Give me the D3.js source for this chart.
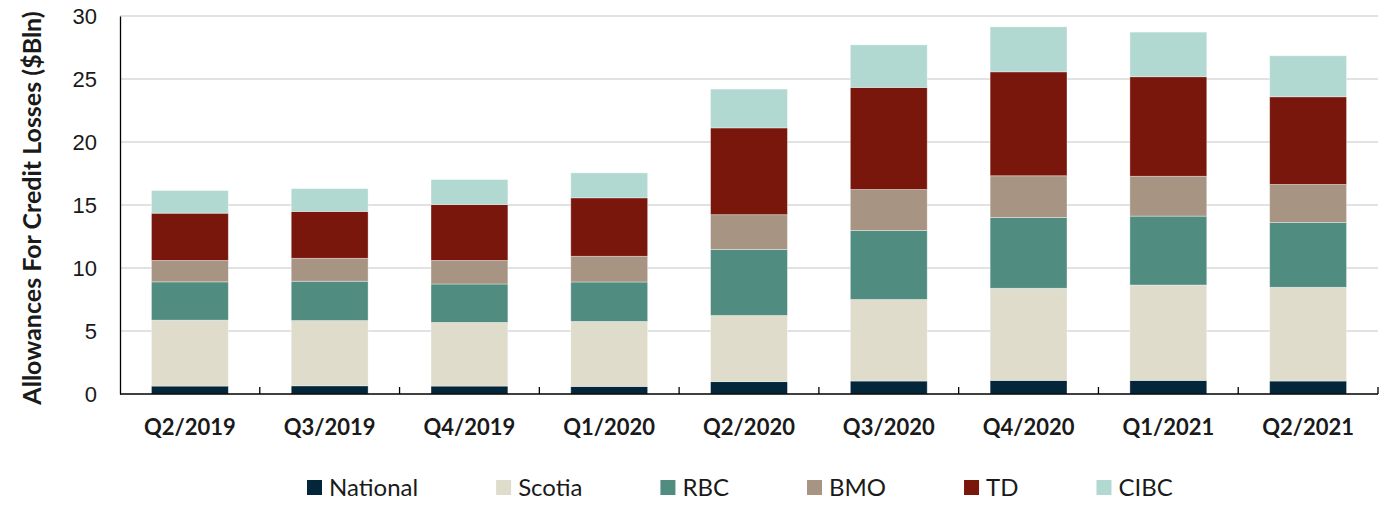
<!DOCTYPE html>
<html lang="en">
<head>
<meta charset="UTF-8">
<title>Allowances for credit losses</title>
<script src="https://cdn.jsdelivr.net/npm/d3@7"></script>
<style>
    body { margin: 0; background: #fff; }
    svg { display: block; font-family: Lato, "Open Sans", sans-serif; }
    .grid line { stroke: #d9d9d9; stroke-width: 1.3; }
    .ylab text { font-size: 22px; fill: #1a1a1a; }
    .xlab text { font-size: 22px; font-weight: bold; fill: #1a1a1a; }
    .legend text { font-size: 24px; fill: #1a1a1a; }
</style>
</head>
<body>
<svg id="chart" width="1395" height="514"></svg>
<script>
// quarters on the x axis
const quarters = ['Q2/2019', 'Q3/2019', 'Q4/2019', 'Q1/2020', 'Q2/2020', 'Q3/2020', 'Q4/2020', 'Q1/2021', 'Q2/2021'];
const banks = ['National', 'Scotia', 'RBC', 'BMO', 'TD', 'CIBC'];

// $Bln
const national = [0.63, 0.65, 0.63, 0.60, 0.98, 1.03, 1.08, 1.08, 1.03];
const scotia   = [5.23, 5.18, 5.05, 5.16, 5.25, 6.47, 7.31, 7.57, 7.44];
const rbc      = [3.04, 3.12, 3.05, 3.13, 5.25, 5.48, 5.62, 5.47, 5.15];
const bmo      = [1.70, 1.82, 1.87, 2.04, 2.75, 3.25, 3.31, 3.16, 3.01];
const td       = [3.75, 3.72, 4.44, 4.64, 6.89, 8.10, 8.25, 7.90, 6.96];
const cibc     = [1.80, 1.81, 1.98, 1.98, 3.08, 3.38, 3.57, 3.54, 3.25];
const yTicks = [0, 5, 10, 15, 20, 25, 30];

const colors = ['#04263a', '#dfdccc', '#518c81', '#a79483', '#79170d', '#b1d9d2'];

const series = [national, scotia, rbc, bmo, td, cibc];
const rows = quarters.map((q, i) => {
    const r = { q: q };
    banks.forEach((b, j) => r[b] = series[j][i]);
    return r;
});

const svg = d3.select('#chart');
const pl = 120, pr = 1378, pt = 16, pb = 394;

const x = d3.scaleBand().domain(quarters).range([pl, pr]).paddingInner(0.45).paddingOuter(0.225);
const y = d3.scaleLinear().domain([0, 30]).range([pb, pt]);
const color = d3.scaleOrdinal().domain(banks).range(colors);

// gridlines
svg.append('g').attr('class', 'grid')
    .selectAll('line').data(yTicks.slice(1)).enter().append('line')
    .attr('x1', pl).attr('x2', pr)
    .attr('y1', d => y(d)).attr('y2', d => y(d));

const stacked = d3.stack().keys(banks)(rows);

svg.append('g').selectAll('g').data(stacked).enter().append('g')
    .attr('fill', d => color(d.key))
    .selectAll('rect').data(d => d).enter().append('rect')
    .attr('x', d => x(d.data.q))
    .attr('width', x.bandwidth())
    .attr('y', d => y(d[1]))
    .attr('height', d => y(d[0]) - y(d[1]))
    .attr('stroke', '#ffffff')
    .attr('stroke-opacity', 0.45)
    .attr('stroke-width', 0.8);

// y axis
const yAxis = svg.append('g').attr('class', 'ylab')
    .attr('transform', `translate(${pl},0)`)
    .call(d3.axisLeft(y).tickValues(yTicks).tickSize(0).tickPadding(23));
yAxis.select('.domain').attr('stroke', '#000').attr('stroke-width', 1.3);

// x axis, ticks between categories pointing up
const bounds = d3.range(quarters.length + 1).map(i => pl + i * (pr - pl) / quarters.length);
const xg = svg.append('g').attr('class', 'xlab');
xg.append('line').attr('x1', pl).attr('x2', pr).attr('y1', pb).attr('y2', pb)
    .attr('stroke', '#000').attr('stroke-width', 1.3);
xg.selectAll('line.t').data(bounds.slice(1)).enter().append('line').attr('class', 't')
    .attr('x1', d => d).attr('x2', d => d).attr('y1', pb).attr('y2', pb - 7)
    .attr('stroke', '#000').attr('stroke-width', 1.3);
xg.selectAll('text').data(quarters).enter().append('text')
    .attr('x', d => x(d) + x.bandwidth() / 2)
    .attr('y', 435)
    .attr('text-anchor', 'middle')
    .text(d => d);

// axis title
svg.append('text')
    .attr('transform', 'translate(41,208) rotate(-90)')
    .attr('text-anchor', 'middle')
    .attr('font-size', 25).attr('font-weight', 'bold').attr('fill', '#1a1a1a')
    .text('Allowances For Credit Losses ($Bln)');

// legend
const lg = svg.append('g').attr('class', 'legend');
let lx = 307;
banks.forEach(b => {
    lg.append('rect').attr('x', lx).attr('y', 480).attr('width', 15).attr('height', 15).attr('fill', color(b));
    const t = lg.append('text').attr('x', lx + 22).attr('y', 496).text(b);
    lx += 22 + t.node().getComputedTextLength() + 78;
});
</script>
</body>
</html>
